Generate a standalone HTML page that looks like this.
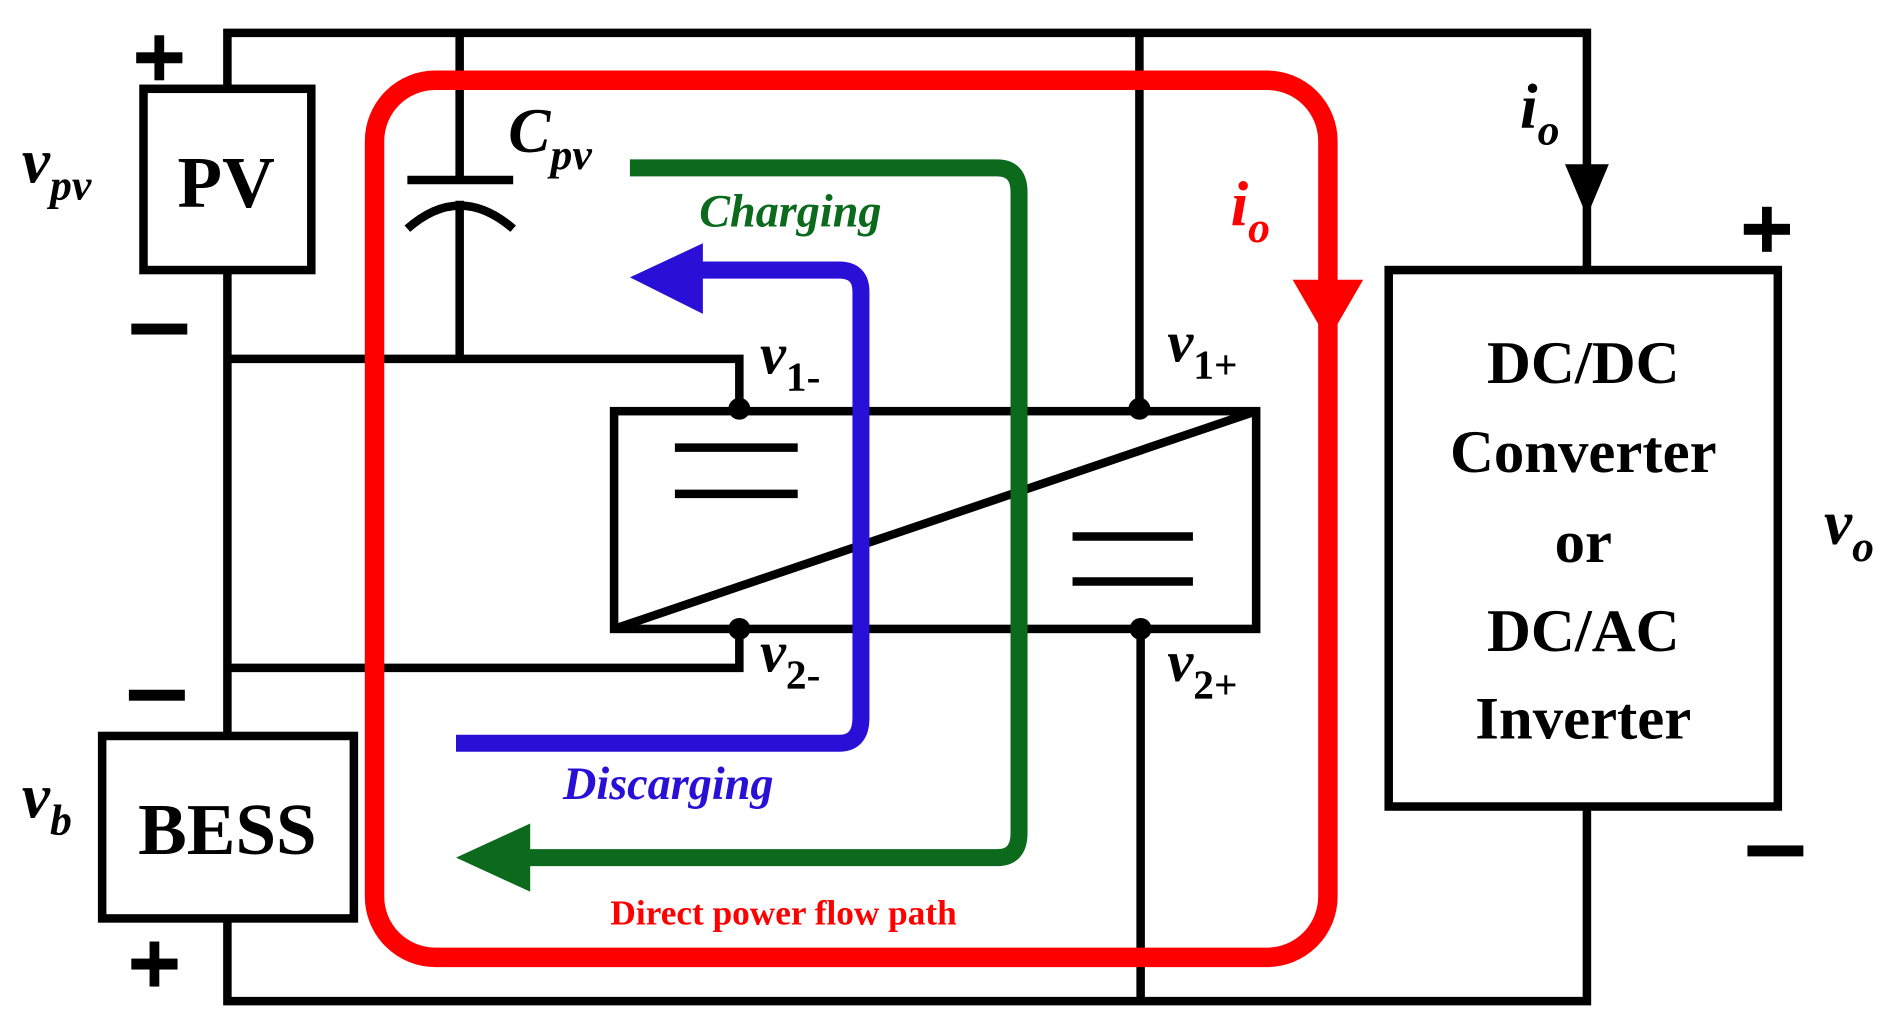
<!DOCTYPE html>
<html><head><meta charset="utf-8"><style>
html,body{margin:0;padding:0;background:#fff;width:1897px;height:1034px;overflow:hidden}
svg{display:block}
text{font-family:"Liberation Serif",serif;font-weight:bold}
</style></head><body>
<svg width="1897" height="1034" viewBox="0 0 1560 850" preserveAspectRatio="none" xmlns="http://www.w3.org/2000/svg">
<g fill="none" stroke="#000" stroke-width="7">
<polyline points="187,73 187,27 1305,27 1305,222"/>
<polyline points="187,755 187,823 1305,823 1305,663"/>
<line x1="187" y1="222" x2="187" y2="605"/>
<rect x="118" y="73" width="138" height="149"/>
<rect x="84" y="605" width="207" height="150"/>
<line x1="378" y1="27" x2="378" y2="148"/>
<line x1="335" y1="148" x2="422" y2="148"/>
<path d="M335,188 Q378,150 422,188"/>
<line x1="378" y1="165" x2="378" y2="295"/>
<polyline points="187,295 608,295 608,336"/>
<polyline points="187,549 608,549 608,517"/>
<line x1="937" y1="27" x2="937" y2="336"/>
<line x1="938" y1="517" x2="938" y2="823"/>
<rect x="505" y="338" width="528" height="179"/>
<line x1="505" y1="517" x2="1033" y2="338"/>
<line x1="555" y1="368" x2="656" y2="368"/><line x1="555" y1="406" x2="656" y2="406"/>
<line x1="882" y1="441" x2="981" y2="441"/><line x1="882" y1="478" x2="981" y2="478"/>
<rect x="1142" y="222" width="320" height="441"/>
</g>
<g fill="#000"><circle cx="608" cy="336" r="9"/><circle cx="937" cy="336" r="9"/><circle cx="608" cy="517" r="9"/><circle cx="938" cy="517" r="9"/>
<polygon points="1287,135 1323,135 1305,178"/></g>
<rect x="308" y="66" width="784" height="721" rx="50" fill="none" stroke="#f00" stroke-width="16"/>
<polygon points="1063,230 1121,230 1092,280" fill="#f00"/>
<path d="M518,138 H820 Q838,138 838,158 V685 Q838,705 820,705 H430" fill="none" stroke="#0b6a1c" stroke-width="14"/>
<polygon points="375,705 436,677 436,733" fill="#0b6a1c"/>
<path d="M375,611 H690 Q708,611 708,590 V240 Q708,222 690,222 H570" fill="none" stroke="#2a10d6" stroke-width="14"/>
<polygon points="518,228 578,200 578,258" fill="#2a10d6"/>
<g font-size="60" text-anchor="middle"><text x="186" y="170">PV</text><text x="187" y="702">BESS</text></g>
<g font-size="50" text-anchor="middle"><text x="1302" y="315">DC/DC</text><text x="1302" y="388">Converter</text><text x="1302" y="462">or</text><text x="1302" y="535">DC/AC</text><text x="1302" y="607">Inverter</text></g>
<g fill="#000">
<rect x="108" y="266" width="46" height="9"/><rect x="106" y="567" width="46" height="9"/><rect x="1437" y="695" width="46" height="9"/>
<rect x="112" y="43" width="38" height="9"/><rect x="127" y="29" width="8" height="37"/>
<rect x="108" y="788" width="38" height="9"/><rect x="123" y="774" width="8" height="37"/>
<rect x="1434" y="184" width="38" height="9"/><rect x="1449" y="170" width="8" height="37"/>
</g>
<g font-style="italic">
<text x="18" y="150" font-size="52">v<tspan font-size="36" dy="14">pv</tspan></text>
<text x="418" y="125" font-size="52">C<tspan font-size="36" dy="14">pv</tspan></text>
<text x="18" y="672" font-size="52">v<tspan font-size="36" dy="14">b</tspan></text>
<text x="1500" y="447" font-size="52">v<tspan font-size="36" dy="14">o</tspan></text>
<text x="1250" y="105" font-size="52">i<tspan font-size="36" dy="14">o</tspan></text>
<text x="1012" y="185" font-size="52" fill="#f00">i<tspan font-size="36" dy="14">o</tspan></text>
<text x="625" y="307" font-size="48">v<tspan font-size="34" font-style="normal" dy="14">1-</tspan></text>
<text x="960" y="297" font-size="48">v<tspan font-size="34" font-style="normal" dy="14">1+</tspan></text>
<text x="625" y="552" font-size="48">v<tspan font-size="34" font-style="normal" dy="14">2-</tspan></text>
<text x="960" y="560" font-size="48">v<tspan font-size="34" font-style="normal" dy="14">2+</tspan></text>
<text x="575" y="186" font-size="38" fill="#0b6a1c">Charging</text>
<text x="463" y="657" font-size="38" fill="#2a10d6">Discarging</text>
</g>
<text x="502" y="760" font-size="29" fill="#f00">Direct power flow path</text>
</svg>
</body></html>
